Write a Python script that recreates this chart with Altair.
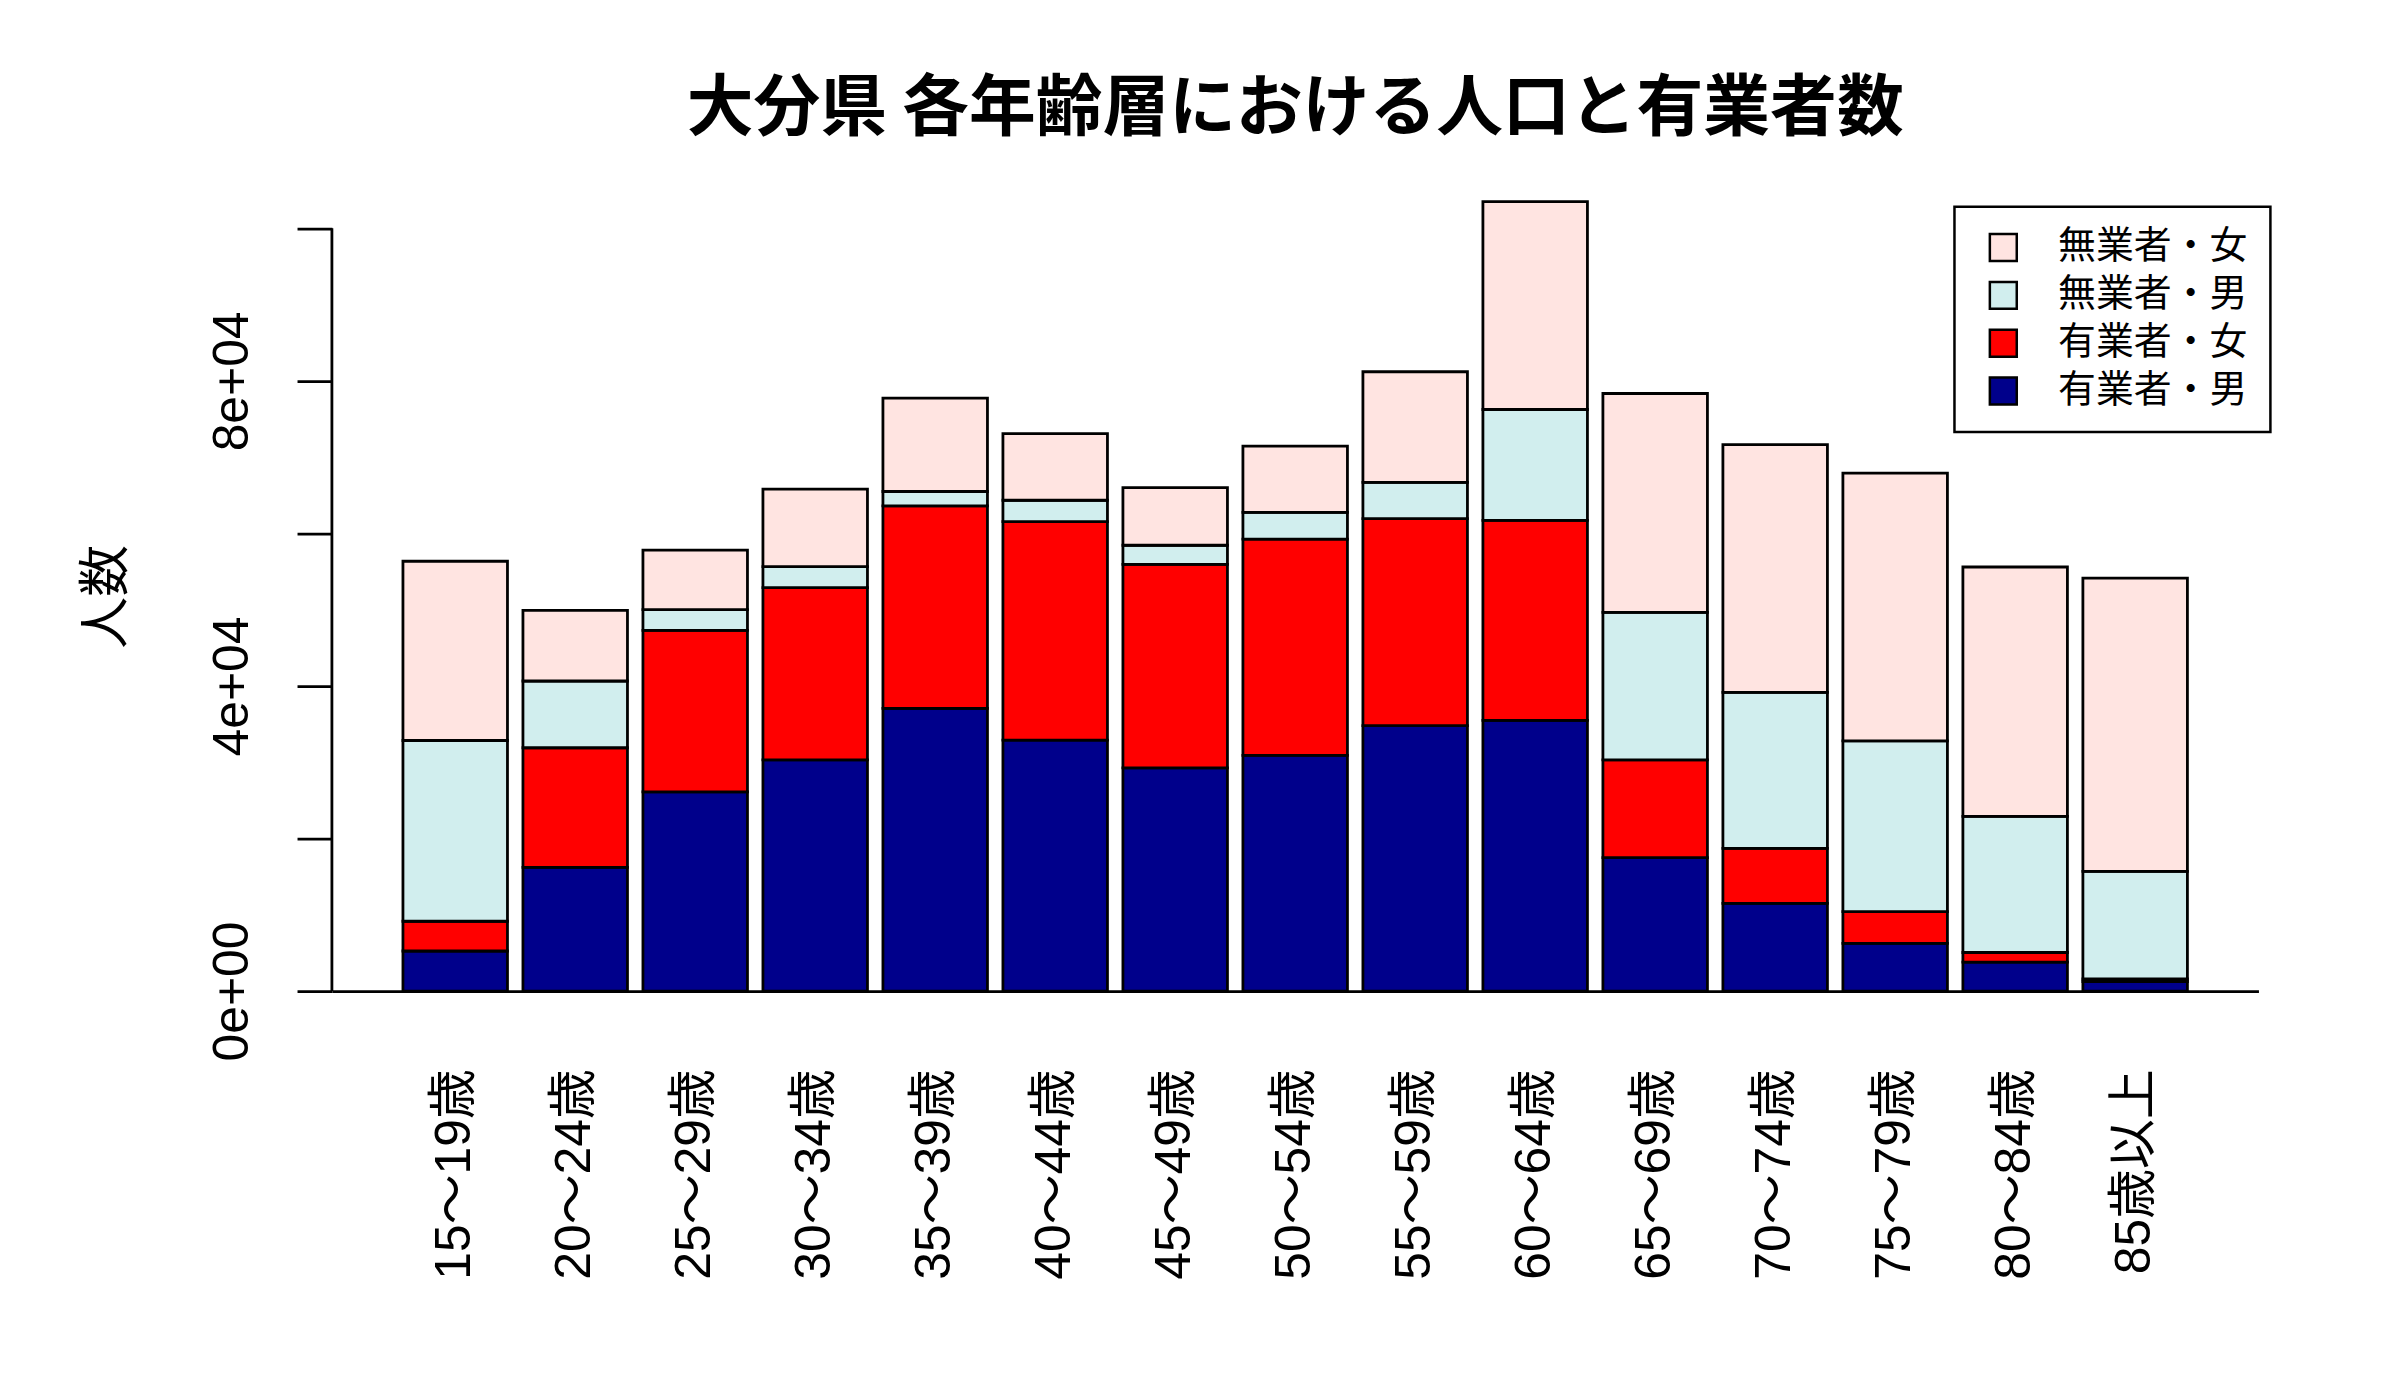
import altair as alt
import pandas as pd

# ---- data ----
categories = ["15～19歳", "20～24歳", "25～29歳", "30～34歳", "35～39歳",
              "40～44歳", "45～49歳", "50～54歳", "55～59歳", "60～64歳",
              "65～69歳", "70～74歳", "75～79歳", "80～84歳", "85歳以上"]
emp_male = [5250, 16200, 26100, 30300, 37050, 32900, 29250, 30900, 34800,
            35500, 17500, 11500, 6250, 3800, 1250]
emp_female = [3900, 15700, 21200, 22600, 26550, 28650, 26700, 28350, 27150,
              26200, 12800, 7200, 4150, 1250, 350]
unemp_male = [23700, 8750, 2700, 2750, 1900, 2800, 2500, 3500, 4750,
              14550, 19350, 20450, 22400, 17850, 14100]
unemp_female = [23500, 9250, 7800, 10150, 12250, 8750, 7550, 8700, 14500,
                27250, 28700, 32500, 35100, 32700, 38450]

stack_names = ["有業者・男", "有業者・女", "無業者・男", "無業者・女"]   # bottom -> top
legend_order = ["無業者・女", "無業者・男", "有業者・女", "有業者・男"]
legend_colors = ["#FFE4E1", "#D1EEEE", "#FF0000", "#00008B"]

y_tick_values = [0, 20000, 40000, 60000, 80000, 100000]
y_tick_labels = {0: "0e+00", 40000: "4e+04", 80000: "8e+04"}

title_text = "大分県 各年齢層における人口と有業者数"
y_title = "人数"

rows = []
for k, (name, vals) in enumerate(zip(stack_names, [emp_male, emp_female, unemp_male, unemp_female])):
    for c, v in zip(categories, vals):
        rows.append({"年齢層": c, "区分": name, "人数": v, "k": k})
df = pd.DataFrame(rows)

FONT = "Noto Sans CJK JP"
AXFONT = "Liberation Sans, Noto Sans CJK JP"
W, H = 1933, 792
YMAX = 103500

label_expr = " : ".join(
    [f"datum.value == {v} ? '{t}'" for v, t in y_tick_labels.items()]
) + " : ''"

y_scale = alt.Scale(domain=[0, YMAX], nice=False, zero=True)

bars = alt.Chart(df).mark_bar(stroke="black", strokeWidth=2.8, strokeJoin="miter").encode(
    x=alt.X(
        "年齢層:N", sort=categories,
        scale=alt.Scale(paddingInner=0.129, paddingOuter=0.592, align=0.5),
        axis=alt.Axis(title=None, labelAngle=270, labelAlign="right", labelBaseline="middle",
                      ticks=False, domain=True, domainColor="black", domainWidth=2.8,
                      labelPadding=78, labelFontSize=50, labelFont=AXFONT, labelColor="black",
                      labelLimit=600),
    ),
    y=alt.Y(
        "人数:Q", stack="zero", scale=y_scale,
        axis=alt.Axis(values=y_tick_values, labelExpr=label_expr, domain=False, grid=False,
                      tickSize=35, tickWidth=2.8, tickColor="black",
                      labelAngle=270, labelAlign="center", labelBaseline="bottom",
                      labelPadding=40, labelFontSize=50, labelFont=AXFONT, labelColor="black",
                      labelOverlap=False,
                      title=y_title, titleAngle=270, titleX=-226, titleY=H / 2,
                      titleAlign="center", titleBaseline="middle", titleFontSize=52,
                      titleFont=FONT, titleFontWeight="normal", titleColor="black"),
    ),
    color=alt.Color(
        "区分:N", scale=alt.Scale(domain=legend_order, range=legend_colors),
        legend=alt.Legend(title=None, orient="none", legendX=1628, legendY=5,
                          direction="vertical", symbolType="square", symbolSize=729,
                          symbolStrokeColor="black", symbolStrokeWidth=2.5,
                          labelFontSize=38, labelFont=FONT, labelColor="black",
                          labelOffset=36, padding=22, rowPadding=10, symbolOffset=8,
                          strokeColor="black", labelLimit=500),
    ),
    order=alt.Order("k:Q", sort="ascending"),
)

yline = alt.Chart(pd.DataFrame({"a": [0]})).mark_rule(color="black", strokeWidth=2.8).encode(
    x=alt.value(0),
    y=alt.datum(y_tick_values[0]),
    y2=alt.datum(y_tick_values[-1]),
)

chart = alt.layer(bars, yline).properties(
    width=W, height=H,
    background="white",
    title=alt.TitleParams(text=title_text, font=FONT, fontSize=67, fontWeight="bold",
                          anchor="middle", offset=57, color="black"),
    autosize=alt.AutoSizeParams(type="none"),
    padding={"left": 325, "top": 192, "right": 134, "bottom": 400},
).configure_view(strokeWidth=0, stroke=None).configure_legend(strokeWidth=2.5)

chart.save("out.html", embed_options={"renderer": "svg", "actions": False})
